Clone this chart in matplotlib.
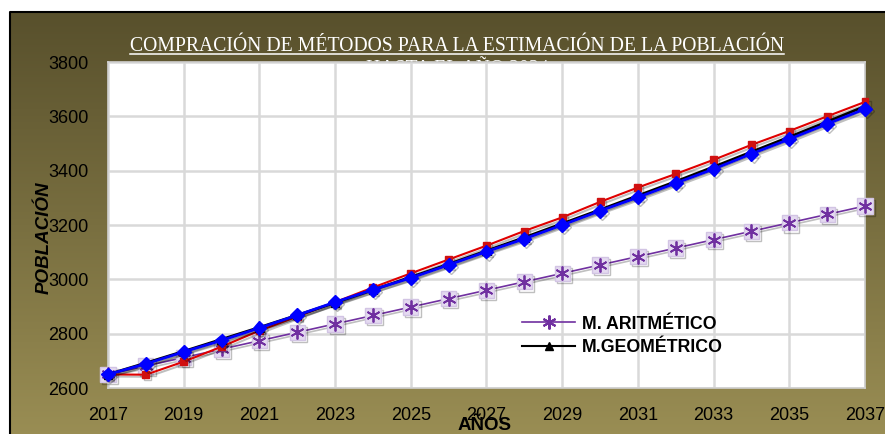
import numpy as np
import matplotlib
matplotlib.use("Agg")
import matplotlib.pyplot as plt
from matplotlib.lines import Line2D
import matplotlib.patheffects as pe

years = list(range(2017, 2038))
aritmetico = [2650, 2681, 2712, 2743, 2774, 2805, 2836, 2867, 2898, 2929, 2960,
              2991, 3022, 3053, 3084, 3115, 3146, 3177, 3208, 3239, 3270]
geometrico = [2650, 2692, 2735, 2779, 2823, 2868, 2914, 2961, 3008, 3056, 3105,
              3154, 3205, 3256, 3308, 3360, 3414, 3469, 3524, 3580, 3637]
rojo = [2650, 2649, 2697, 2752, 2811, 2863, 2916, 2970, 3022, 3073, 3124,
        3178, 3228, 3285, 3338, 3388, 3440, 3495, 3546, 3600, 3653]
azul = [2650, 2689, 2733, 2775, 2821, 2868, 2916, 2962, 3005, 3053, 3102,
        3149, 3200, 3252, 3302, 3354, 3406, 3462, 3516, 3572, 3627]
xticks = list(range(2017, 2038, 2))
yticks = list(range(2600, 3801, 200))
title1 = "COMPRACIÓN DE MÉTODOS PARA LA ESTIMACIÓN DE LA POBLACIÓN"
title2 = "HASTA EL AÑO 2034"

W, H = 885, 434
fig = plt.figure(figsize=(W / 100, H / 100), dpi=100)

# background axes with gradient
bg = fig.add_axes([0, 0, 1, 1], zorder=-5)
bg.set_xlim(0, W)
bg.set_ylim(H, 0)
bg.axis("off")
top = np.array([88, 80, 44]) / 255
bot = np.array([154, 142, 84]) / 255
t = np.linspace(0, 1, 256)[:, None, None]
grad = top * (1 - t) + bot * t
grad = np.repeat(grad, 2, axis=1)
bg.imshow(grad, extent=[10, W + 5, H + 5, 12], aspect="auto", zorder=0)
bg.plot([10, 10, W + 5], [H + 5, 12, 12], color="black", lw=1.5, zorder=1)

tt = bg.text(457, 51, title1, ha="center", va="baseline", color="white",
             fontsize=14.2, family="Liberation Serif", zorder=2)
bg.text(457, 74, title2, ha="center", va="baseline", color="white",
        fontsize=14.2, family="Liberation Serif", zorder=2)
fig.canvas.draw()
bb = tt.get_window_extent().transformed(bg.transData.inverted())
x0, x1 = sorted([bb.x0, bb.x1])
bg.plot([x0, x1], [54, 54], color="white", lw=1.1, zorder=2)

ax = fig.add_axes([108 / W, 46 / H, 757 / W, 326 / H], zorder=1)
ax.set_facecolor("white")
ax.set_xlim(2017, 2037)
ax.set_ylim(2600, 3800)
ax.set_xticks(xticks)
ax.set_yticks(yticks)
ax.grid(True, color="#d9d9d9", lw=1.8)
ax.set_axisbelow(True)
for s in ax.spines.values():
    s.set_color("#d0d0d0")
    s.set_linewidth(1.2)
ax.tick_params(length=0, labelsize=13, pad=14, labelcolor="black")
for lab in ax.get_xticklabels() + ax.get_yticklabels():
    lab.set_family("Liberation Sans")

shadow = [pe.SimpleLineShadow(offset=(1.5, -1.5), shadow_color="black", alpha=0.25), pe.Normal()]

ax.plot(years, aritmetico, color="#7030a0", lw=1.2, marker="s", ms=11,
        mfc="#e4daf0", mec="#d2c4e4", clip_on=False, zorder=3, path_effects=shadow)
ax.plot(years, aritmetico, color="none", lw=0, marker=(6, 2, 0), ms=10,
        mec="#7030a0", mew=1.3, clip_on=False, zorder=3.1)
ax.plot(years, rojo, color="#e00000", lw=1.5, marker="s", ms=5, mfc="#d01010",
        mec="#d01010", clip_on=False, zorder=4, path_effects=shadow)
ax.plot(years, geometrico, color="black", lw=2.0, marker="^", ms=6,
        clip_on=False, zorder=5, path_effects=shadow)
ax.plot(years, azul, color="#0000ff", lw=2.0, marker="D", ms=7,
        clip_on=False, zorder=6, path_effects=shadow)

h1 = Line2D([], [], color="#7030a0", lw=1.2, marker=(6, 2, 0), ms=10, mew=1.5)
h2 = Line2D([], [], color="black", lw=1.5, marker="^", ms=6)
leg = ax.legend([h1, h2], ["M. ARITMÉTICO", "M.GEOMÉTRICO"], loc="upper left",
                bbox_to_anchor=(0.535, 0.249), frameon=False, handlelength=3.0,
                handletextpad=0.4, borderpad=0, labelspacing=0.38,
                prop={"family": "Liberation Sans", "weight": "bold", "size": 12.8})

ax.set_ylabel("POBLACIÓN", family="Liberation Sans", weight="bold", style="italic",
              fontsize=13.5)
ax.yaxis.set_label_coords(-0.073, 0.46)
ax.set_xlabel("AÑOS", family="Liberation Sans", weight="bold", fontsize=13.5)
ax.xaxis.set_label_coords(0.498, -0.089)

fig.savefig("out.png", dpi=100)
